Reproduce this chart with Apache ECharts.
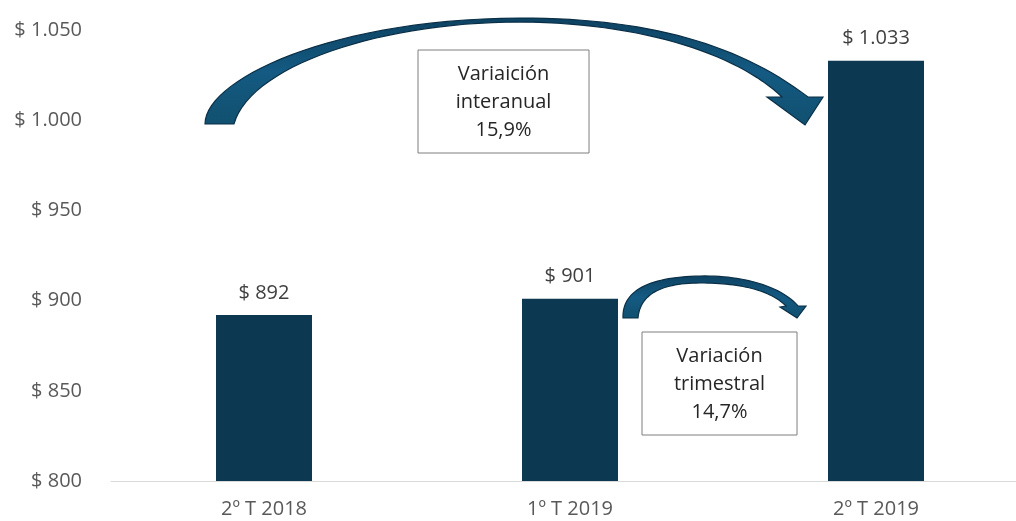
<!DOCTYPE html>
<html>
<head>
<meta charset="utf-8">
<script src="https://cdn.jsdelivr.net/npm/echarts@6/dist/echarts.min.js"></script>
<style>
  html, body { margin: 0; padding: 0; background: #fff; }
  #main { width: 1016px; height: 521px; }
</style>
</head>
<body>
<div id="main"></div>
<script>
// datos del gráfico
const trimestres = ['2º T 2018', '1º T 2019', '2º T 2019'];
const valores = [892, 901, 1033];
const yMin = 800, yMax = 1050, yPaso = 50;
const notaAnual = ['Variaición', 'interanual', '15,9%'];
const notaTrim = ['Variación', 'trimestral', '14,7%'];

const FUENTE = '"Open Sans", "Noto Sans", sans-serif';

// $ 1.033 -> separador de miles con punto
function pesos(v) {
    let s = String(Math.round(v));
    s = s.replace(/\B(?=(\d{3})+(?!\d))/g, '.');
    return '$ ' + s;
}

// muestrea una curva bezier cúbica en puntos
function bezier(p0, p1, p2, p3, n) {
    const pts = [];
    for (let i = 1; i <= n; i++) {
        const t = i / n, u = 1 - t;
        pts.push([
            u*u*u*p0[0] + 3*u*u*t*p1[0] + 3*u*t*t*p2[0] + t*t*t*p3[0],
            u*u*u*p0[1] + 3*u*u*t*p1[1] + 3*u*t*t*p2[1] + t*t*t*p3[1]
        ]);
    }
    return pts;
}

// flecha curva: borde de arriba, punta, borde de abajo
function flecha(arriba, punta, abajo) {
    let pts = [arriba[0][0]];
    arriba.forEach(s => { pts = pts.concat(bezier(s[0], s[1], s[2], s[3], 30)); });
    pts = pts.concat(punta);
    abajo.forEach(s => { pts = pts.concat(bezier(s[0], s[1], s[2], s[3], 30)); });
    return pts;
}

const flechaGrande = flecha(
    [[[205,124],[205,80],[330,19],[520,18]], [[520,18],[650,18],[740,45],[808,97]]],
    [[823,97],[805,125],[767,97],[782,97]],
    [[[782,97],[740,57],[650,23],[520,22]], [[520,22],[380,22],[250,66],[234,124]]]
);
const flechaChica = flecha(
    [[[623,318],[622,290],[650,277],[700,276]], [[700,276],[750,275],[785,290],[798,306]]],
    [[806,306],[797,318],[780,307],[786,306]],
    [[[786,306],[770,290],[740,283],[700,283]], [[700,283],[660,283],[640,295],[638,318]]]
);

const chart = echarts.init(document.getElementById('main'));

const estiloFlecha = {
    fill: {
        type: 'linear', x: 0, y: 0, x2: 0, y2: 1,
        colorStops: [
            { offset: 0, color: '#0d4262' },
            { offset: 0.5, color: '#145a82' },
            { offset: 1, color: '#11506f' }
        ]
    },
    stroke: '#0a2f47',
    lineWidth: 1.2
};

function cuadro(x, y, w, h, lineas) {
    return {
        type: 'group',
        x: x, y: y,
        children: [
            {
                type: 'rect',
                shape: { x: 0, y: 0, width: w, height: h },
                style: { fill: '#fff', stroke: '#7f7f7f', lineWidth: 1 }
            },
            {
                type: 'text',
                x: w / 2, y: h / 2 + 1,
                style: {
                    text: lineas.join('\n'),
                    font: '20px ' + FUENTE,
                    lineHeight: 28,
                    fill: '#262626',
                    align: 'center',
                    verticalAlign: 'middle'
                }
            }
        ]
    };
}

const option = {
    backgroundColor: '#fff',
    animation: false,
    grid: { left: 111, width: 918, top: 30, bottom: 40, outerBoundsMode: 'none' },
    xAxis: {
        type: 'category',
        data: trimestres,
        axisTick: { show: false },
        axisLine: { lineStyle: { color: '#d9d9d9', width: 1 } },
        axisLabel: {
            color: '#595959',
            fontFamily: FUENTE,
            fontSize: 20,
            margin: 18
        }
    },
    yAxis: {
        type: 'value',
        min: yMin,
        max: yMax,
        interval: yPaso,
        axisLine: { show: false },
        axisTick: { show: false },
        splitLine: { show: false },
        axisLabel: {
            color: '#595959',
            fontFamily: FUENTE,
            fontSize: 20,
            margin: 29,
            formatter: pesos
        }
    },
    series: [{
        type: 'bar',
        data: valores,
        barWidth: 96,
        itemStyle: { color: '#0c3951' },
        label: {
            show: true,
            position: 'top',
            distance: 12,
            color: '#404040',
            fontFamily: FUENTE,
            fontSize: 20,
            formatter: p => pesos(p.value)
        }
    }],
    graphic: [
        { type: 'polygon', shape: { points: flechaGrande }, style: estiloFlecha, z: 10 },
        { type: 'polygon', shape: { points: flechaChica }, style: estiloFlecha, z: 10 },
        cuadro(418, 50, 171, 103, notaAnual),
        cuadro(642, 332, 155, 103, notaTrim)
    ]
};

chart.setOption(option);
</script>
</body>
</html>
